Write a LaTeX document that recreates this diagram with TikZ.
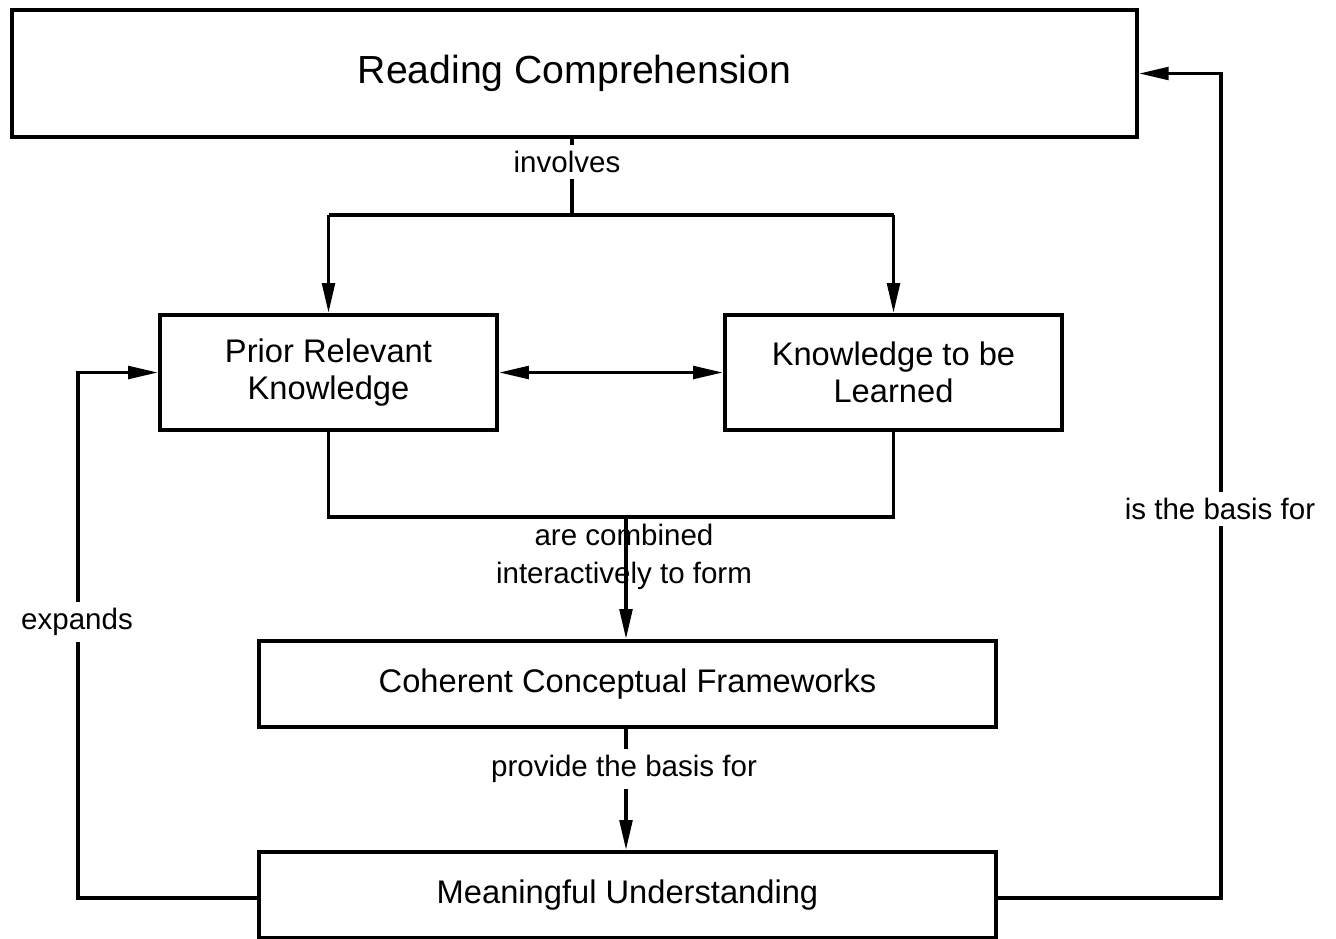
\documentclass[tikz,border=0pt]{standalone}
\usepackage{fontspec}
\setmainfont{Liberation Sans}
\usetikzlibrary{arrows.meta,positioning}

\begin{document}
\begin{tikzpicture}[x=0.02cm,y=-0.02cm,
  box/.style={draw, line width=2.1pt, inner sep=0pt, align=center, font=\fontsize{18.6}{21}\selectfont},
  lbl/.style={font=\fontsize{16.8}{22}\selectfont, inner xsep=2pt, inner ysep=0.12cm, align=center},
  wire/.style={line width=2.1pt},
  link/.style={wire, -{Triangle[length=0.6cm,width=0.25cm]}}]
  \useasboundingbox (0,0) rectangle (1336,938);

  % Boxes
  \node[box, minimum width=22.5cm, minimum height=2.54cm, font=\fontsize{22.3}{26}\selectfont] (read) at (574.5,73.5) {Reading Comprehension};
  \node[box, minimum width=6.74cm, minimum height=2.3cm] (prior) at (328.5,372.5) {Prior Relevant\\Knowledge};
  \node[box, minimum width=6.74cm, minimum height=2.3cm] (learn) at (893.5,372.5) {Knowledge to be\\Learned};
  \node[box, minimum width=14.74cm, minimum height=1.72cm] (frame) at (627.5,684) {Coherent Conceptual Frameworks};
  \node[box, minimum width=14.74cm, minimum height=1.72cm] (mean) at (627.5,895) {Meaningful Understanding};

  % Reading comprehension involves both kinds of knowledge
  \coordinate (split) at (572,215);
  \draw[wire] (read.south -| split) -- (split);
  \node[lbl, fill=white] (involves) at (567,162) {involves};
  \draw[wire] (prior.north |- split) -- (learn.north |- split);
  \draw[link] (prior.north |- split) -- (prior.north);
  \draw[link] (learn.north |- split) -- (learn.north);
  \draw[wire, {Triangle[length=0.6cm,width=0.25cm]}-{Triangle[length=0.6cm,width=0.25cm]}] (prior) -- (learn);

  % Combined into frameworks
  \coordinate (join) at (626,517);
  \draw[wire] (prior.south) |- (join) -| (learn.south);
  \draw[link] (join) -- (join |- frame.north);
  \node[lbl] (combine) at (624,557) {are combined\\interactively to form};

  \draw[link] (join |- frame.south) -- (join |- mean.north);
  \node[lbl, fill=white] (provide) at (624,769) {provide the basis for};

  % Feedback loops
  \coordinate (leftturn) at (78,898);
  \draw[link] (mean.west |- leftturn) -- (leftturn) |- (prior.west);
  \node[lbl, fill=white] (expands) at (77,622) {expands};

  \coordinate (rightturn) at (1221,898);
  \draw[link] (mean.east |- rightturn) -- (rightturn) |- (read.east);
  \node[lbl, fill=white] (basis) at (1220,509) {is the basis for};
\end{tikzpicture}
\end{document}
